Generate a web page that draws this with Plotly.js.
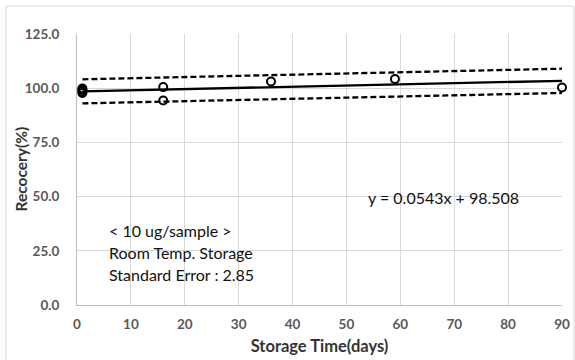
<!DOCTYPE html>
<html>
<head>
<meta charset="utf-8">
<script src="https://cdn.plot.ly/plotly-3.0.1.min.js"></script>
<style>
html,body{margin:0;padding:0;background:#fff;}
#chart{width:575px;height:360px;}
</style>
</head>
<body>
<div id="chart"></div>
<script>
// Measured recoveries (storage day, recovery %)
var pointDays = [1, 1, 1, 1, 16, 16, 36, 59, 90];
var pointRecovery = [97.8, 98.6, 99.3, 99.9, 100.5, 94.3, 103.1, 104.2, 100.3];

// Regression line and its error band, endpoints
var lineDays = [1, 90];
var lineRecovery = [98.56, 103.4];
var upperRecovery = [104.1, 109.0];
var lowerRecovery = [93.0, 97.8];

// Axis ticks
var xTicks = [0, 10, 20, 30, 40, 50, 60, 70, 80, 90];
var yTicks = [0, 25, 50, 75, 100, 125];

var xTitle = 'Storage Time(days)';
var yTitle = 'Recocery(%)';
var equationText = 'y = 0.0543x + 98.508';
var noteLines = ['&lt; 10 ug/sample &gt;', 'Room Temp. Storage', 'Standard Error : 2.85'];

var FONT = 'Lato, "Open Sans", sans-serif';

var traces = [
  {x: lineDays, y: upperRecovery, mode: 'lines', line: {color: '#000', width: 2.3, dash: '6px,3px'}, hoverinfo: 'skip'},
  {x: lineDays, y: lowerRecovery, mode: 'lines', line: {color: '#000', width: 2.3, dash: '6px,3px'}, hoverinfo: 'skip'},
  {x: lineDays, y: lineRecovery, mode: 'lines', line: {color: '#000', width: 2.3}, hoverinfo: 'skip'},
  {x: pointDays, y: pointRecovery, mode: 'markers', cliponaxis: false,
   marker: {symbol: 'circle-open', size: 8, color: '#000', line: {width: 2, color: '#000'}}}
];

var annotations = [{
  x: 53.7, y: 49.4, xref: 'x', yref: 'y', xanchor: 'left', yanchor: 'middle',
  text: equationText, showarrow: false, font: {family: FONT, size: 16, color: '#111'}
}, {
  x: -0.1175, y: 0.5, xref: 'paper', yref: 'paper', xanchor: 'center', yanchor: 'middle',
  textangle: -90, text: yTitle, showarrow: false,
  font: {family: FONT, size: 15.5, color: '#333', weight: 'bold'}
}];
var noteY = [34.3, 24.1, 13.9];
for (var i = 0; i < noteLines.length; i++) {
  annotations.push({
    x: 5.6, y: noteY[i], xref: 'x', yref: 'y', xanchor: 'left', yanchor: 'middle',
    text: noteLines[i], showarrow: false, font: {family: FONT, size: 16, color: '#111'}
  });
}

var layout = {
  width: 575, height: 360,
  margin: {l: 77, r: 13, t: 34, b: 55},
  paper_bgcolor: '#fff', plot_bgcolor: '#fff',
  showlegend: false,
  font: {family: FONT},
  xaxis: {
    range: [0, 90], tickvals: xTicks, ticktext: xTicks.map(String),
    showgrid: true, gridcolor: '#d9d9d9', gridwidth: 1,
    zeroline: false, showline: true, linecolor: '#bfbfbf', linewidth: 1,
    ticks: 'outside', ticklen: 7, tickcolor: 'rgba(0,0,0,0)',
    tickfont: {family: FONT, size: 13.5, color: '#595959', weight: 'bold'},
    title: {text: xTitle, font: {family: FONT, size: 16.5, color: '#333', weight: 'bold'}, standoff: 9}
  },
  yaxis: {
    range: [0, 125], tickvals: yTicks, ticktext: yTicks.map(function(v){return v.toFixed(1);}),
    showgrid: true, gridcolor: '#d9d9d9', gridwidth: 1,
    zeroline: false, showline: true, linecolor: '#bfbfbf', linewidth: 1,
    ticks: 'outside', ticklen: 14, tickcolor: 'rgba(0,0,0,0)',
    tickfont: {family: FONT, size: 13.5, color: '#595959', weight: 'bold'}
  },
  annotations: annotations,
  shapes: [{
    type: 'rect', xref: 'paper', yref: 'paper',
    x0: -0.1464, x1: 1.0247, y0: -0.22, y1: 1.1033,
    line: {color: '#d9d9d9', width: 1}, fillcolor: 'rgba(0,0,0,0)', layer: 'below'
  }]
};

Plotly.newPlot('chart', traces, layout, {displayModeBar: false, staticPlot: true});
</script>
</body>
</html>
